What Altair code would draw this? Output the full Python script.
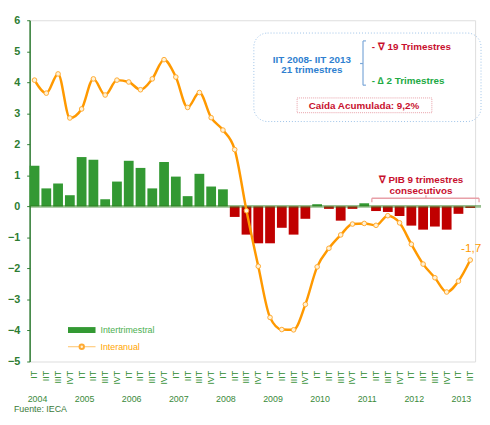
import altair as alt
import pandas as pd

# ---- data -------------------------------------------------------------
quarter_names = ["IT", "IIT", "IIIT", "IVT"]
years = [2004, 2005, 2006, 2007, 2008, 2009, 2010, 2011, 2012, 2013]
y_ticks = [-5, -4, -3, -2, -1, 0, 1, 2, 3, 4, 5, 6]
intertrimestral = [1.31, 0.58, 0.74, 0.36, 1.59, 1.50, 0.23, 0.80, 1.47, 1.24,
                   0.58, 1.43, 0.96, 0.33, 1.05, 0.64, 0.55, -0.34, -0.91, -1.19,
                   -1.19, -0.69, -0.91, -0.40, 0.07, -0.08, -0.46, -0.08, 0.10, -0.15,
                   -0.18, -0.31, -0.62, -0.75, -0.65, -0.75, -0.24, -0.05]
interanual = [4.07, 3.65, 4.27, 2.85, 3.14, 4.11, 3.59, 4.07, 4.01, 3.76,
              4.11, 4.73, 4.17, 3.19, 3.67, 2.86, 2.46, 1.83, -0.14, -1.93,
              -3.58, -3.97, -3.98, -3.16, -1.95, -1.35, -0.92, -0.57, -0.55, -0.61,
              -0.30, -0.53, -1.22, -1.86, -2.30, -2.76, -2.41, -1.73]
last_label = "-1,7"

df = pd.DataFrame({
    "q": list(range(len(intertrimestral))),
    "inter": intertrimestral,
    "anual": interanual,
})
year_df = pd.DataFrame({"q": [4 * i for i in range(len(years))], "year": [str(y) for y in years]})

W, H = 453, 347
FONT = "Liberation Sans"
GREEN = "#339933"
RED = "#C00000"
ORANGE = "#FF9900"
AXGREEN = "#2E7D32"

label_expr = "[" + ",".join(f"'{n}'" for n in quarter_names) + "][datum.value % 4]"

xaxis = alt.Axis(title=None, domain=False, ticks=False, tickSize=0,
                 labelAngle=270, labelPadding=9, labelFontSize=9,
                 labelColor="#2E8B2E", labelFont=FONT, labelOverlap=False,
                 labelBound=False, labelExpr=label_expr)
xscale = alt.Scale(paddingInner=0.17, paddingOuter=0)
yscale = alt.Scale(domain=[-5, 6], nice=False, zero=False)
yaxis = alt.Axis(title=None, values=y_ticks, grid=False,
                 tickSize=3, tickColor=AXGREEN, domainColor=AXGREEN,
                 domainWidth=1.5, labelColor=AXGREEN, labelFontSize=11,
                 labelFontWeight="bold", labelPadding=7, labelFont=FONT,
                 labelOverlap=False, labelBound=False, labelFlush=False)


def X(field="q:O"):
    return alt.X(field, scale=xscale, axis=xaxis)


def Y(field):
    return alt.Y(field, scale=yscale, axis=yaxis)


base = alt.Chart(df)

bars = base.mark_bar().encode(
    x=X(), y=Y("inter:Q"),
    color=alt.condition("datum.inter >= 0", alt.value(GREEN), alt.value(RED)),
)

zero = alt.Chart(pd.DataFrame({"z": [0]})).mark_rule(
    color="#2E7D1E", opacity=0.5, strokeWidth=3).encode(
    y=Y("z:Q"), x=alt.value(0), x2=alt.value(459))

line = base.mark_line(interpolate="monotone", color=ORANGE, strokeWidth=2.5).encode(
    x=X(), y=Y("anual:Q"))
pts = base.mark_point(filled=True, fill="#FFF2D8", stroke="#FFAA33", strokeWidth=1,
                      size=22, opacity=1).encode(x=X(), y=Y("anual:Q"))
lastlab = base.transform_filter(f"datum.q == {len(interanual) - 1}").mark_text(
    text=last_label, color=ORANGE, fontSize=12, font=FONT, dy=-12, dx=1).encode(
    x=X(), y=Y("anual:Q"))

year_text = alt.Chart(year_df).mark_text(
    color="#3A8A3A", fontSize=9, font=FONT, dx=3, baseline="middle").encode(
    x=X(), y=alt.value(H + 38), text="year:N")


def txt(s, x, y, color, size=10, weight="bold", align="center"):
    return alt.Chart(pd.DataFrame({"t": [s]})).mark_text(
        color=color, fontSize=size, fontWeight=weight, font=FONT, align=align,
        baseline="middle").encode(text="t:N", x=alt.value(x), y=alt.value(y))


def seg(x1, y1, x2, y2, color, width=1, dash=None):
    kw = dict(color=color, strokeWidth=width)
    if dash:
        kw["strokeDash"] = dash
    return alt.Chart(pd.DataFrame({"a": [0]})).mark_rule(**kw).encode(
        x=alt.value(x1), y=alt.value(y1), x2=alt.value(x2), y2=alt.value(y2))


def box(x1, y1, x2, y2, color, radius=0, dash=None):
    kw = dict(fillOpacity=0, stroke=color, strokeWidth=1, cornerRadius=radius)
    if dash:
        kw["strokeDash"] = dash
    return alt.Chart(pd.DataFrame({"a": [0]})).mark_rect(**kw).encode(
        x=alt.value(x1), y=alt.value(y1), x2=alt.value(x2), y2=alt.value(y2))


BLUE = "#2F7FD0"
DRED = "#C8102E"
TGREEN = "#22AA44"
PINK = "#E8A0A8"

annot = [
    box(228, 13, 459, 103, "#9CC2E8", radius=14, dash=[1, 2]),
    txt("IIT 2008- IIT 2013", 287, 40, BLUE),
    txt("21 trimestres", 287, 51, BLUE),
    seg(339, 21, 339, 66, "#7BA7D8", 1.2),
    seg(339, 21, 342, 21, "#7BA7D8", 1.2),
    seg(339, 66, 342, 66, "#7BA7D8", 1.2),
    seg(336, 44, 339, 44, "#7BA7D8", 1.2),
    txt("- ∇ 19 Trimestres", 348, 27, DRED, align="left"),
    txt("- ∆ 2 Trimestres", 348, 62, TGREEN, align="left"),
    box(272, 79, 409, 94, PINK, dash=[1, 1]),
    txt("Caída  Acumulada:  9,2%", 340, 87, DRED),
    txt("∇ PIB 9 trimestres", 398, 162, DRED),
    txt("consecutivos", 398, 174, DRED),
    seg(348, 181, 457, 181, PINK, 1.3),
    seg(348, 181, 348, 185, PINK, 1.3),
    seg(457, 181, 457, 185, PINK, 1.3),
    seg(403, 178, 403, 181, PINK, 1.3),
    # legend
    alt.Chart(pd.DataFrame({"a": [0]})).mark_rect(color=GREEN).encode(
        x=alt.value(39), x2=alt.value(67), y=alt.value(312), y2=alt.value(318)),
    txt("Intertrimestral", 72, 315, "#4CAF50", size=9, weight="normal", align="left"),
    seg(39, 332, 67, 332, "#FFC266", 1),
    alt.Chart(pd.DataFrame({"a": [0]})).mark_point(
        filled=True, fill="#FFF2D8", stroke="#FFAA33", size=20, opacity=1).encode(
        x=alt.value(53), y=alt.value(332)),
    txt("Interanual", 72, 332, "#FFA500", size=9, weight="normal", align="left"),
    txt("Fuente:  IECA", -16, H + 48, "#3A7A3A", size=9, weight="normal", align="left"),
]

chart = alt.layer(bars, zero, line, pts, lastlab, year_text, *annot).properties(
    width=W, height=H,
    autosize=alt.AutoSizeParams(type="none"),
    padding={"left": 22, "top": 9, "right": 7, "bottom": 54},
).configure_view(stroke=None).configure(background="white")

chart.save("out.html", embed_options={"renderer": "svg", "actions": False})
